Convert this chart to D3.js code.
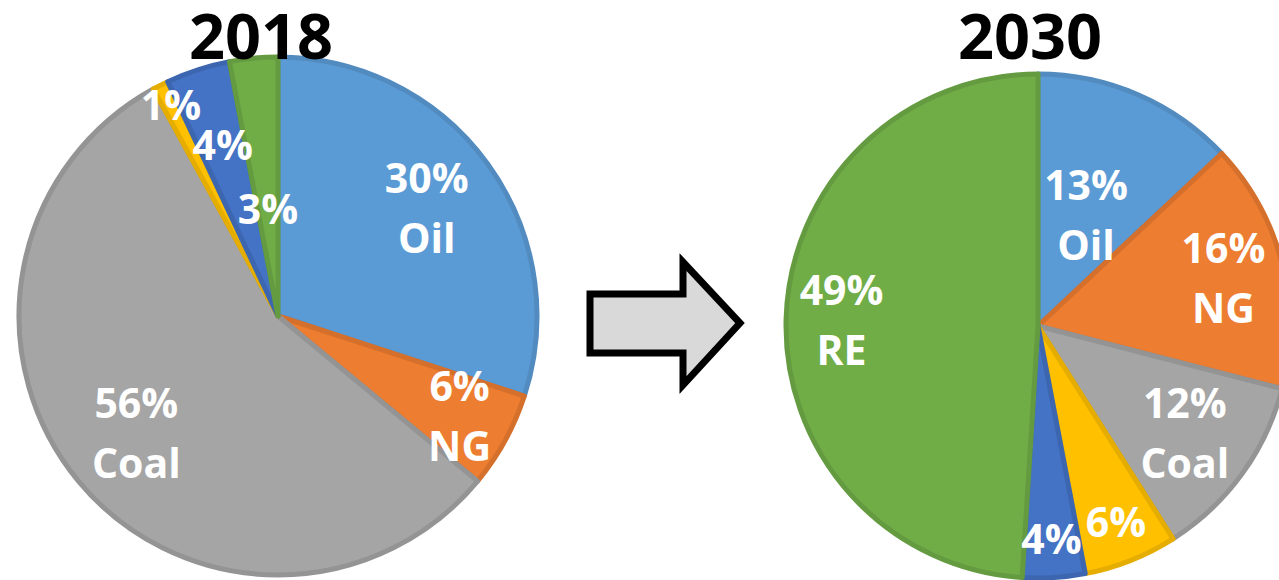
<!DOCTYPE html>
<html>
<head>
<meta charset="utf-8">
<script src="https://cdn.jsdelivr.net/npm/d3@7"></script>
<style>
  body { margin: 0; background: #fff; }
  svg { display: block; }
  text { font-family: "Open Sans", "Noto Sans", sans-serif; font-weight: bold; }
</style>
</head>
<body>
<svg id="chart" width="1279" height="580"></svg>
<script>
// data, clockwise from 12 o'clock
const sources = ['Oil', 'NG', 'Coal', 'Nuclear', 'Hydro', 'RE']
const colors = ['#5B9BD5', '#ED7D31', '#A5A5A5', '#FFC000', '#4472C4', '#70AD47']
const share2018 = [30, 6, 56, 1, 4, 3]
const share2030 = [13, 16, 12, 6, 4, 49]
const names2018 = ['Oil', 'NG', 'Coal', '', '', '']
const names2030 = ['Oil', 'NG', 'Coal', '', '', 'RE']

// label distance from centre as a fraction of the radius (Excel best fit)
const labelPos2018 = [0.71, 0.80, 0.71, 0.91, 0.69, 0.41]
const labelPos2030 = [0.48, 0.76, 0.72, 0.84, 0.85, 0.78]

const svg = d3.select('#chart')

function drawPie (cx, cy, r, values, names, labelPos, title, tx) {
  var g = svg.append('g').attr('transform', 'translate(' + cx + ',' + cy + ')')
  var pie = d3.pie().sort(null).value(d => d)
  var arcs = pie(values)
  var arc = d3.arc().innerRadius(0).outerRadius(r)

  g.selectAll('path.slice')
    .data(arcs)
    .enter().append('path')
    .attr('class', 'slice')
    .attr('d', arc)
    .attr('fill', (d, i) => colors[i])
    .attr('stroke', (d, i) => d3.color(colors[i]).darker(0.3))
    .attr('stroke-width', 5)
    .attr('stroke-linejoin', 'round')

  var lab = g.selectAll('text.lab')
    .data(arcs)
    .enter().append('text')
    .attr('class', 'lab')
    .attr('fill', '#fff')
    .attr('font-size', 41)
    .attr('text-anchor', 'middle')
    .attr('transform', (d, i) => {
      var la = d3.arc().innerRadius(r * labelPos[i]).outerRadius(r * labelPos[i])
      var c = la.centroid(d)
      return 'translate(' + c[0] + ',' + c[1] + ')'
    })
  lab.each(function (d, i) {
    var t = d3.select(this)
    if (names[i]) {
      t.append('tspan').attr('x', 0).attr('y', -15).text(d.data + '%')
      t.append('tspan').attr('x', 0).attr('y', 45).text(names[i])
    } else {
      t.append('tspan').attr('x', 0).attr('y', 14).text(d.data + '%')
    }
  })

  svg.append('text')
    .attr('x', tx).attr('y', 59)
    .attr('text-anchor', 'middle')
    .attr('font-size', 63)
    .attr('fill', '#000')
    .text(title)
}

drawPie(278, 316, 259, share2018, names2018, labelPos2018, '2018', 261)
drawPie(1038, 326, 252, share2030, names2030, labelPos2030, '2030', 1030)

// block arrow between the two pies
const arrow = d3.path()
arrow.moveTo(590, 294)
arrow.lineTo(683, 294)
arrow.lineTo(683, 262)
arrow.lineTo(740, 323)
arrow.lineTo(683, 385)
arrow.lineTo(683, 353)
arrow.lineTo(590, 353)
arrow.closePath()
svg.append('path')
  .attr('d', arrow.toString())
  .attr('fill', '#D9D9D9')
  .attr('stroke', '#000')
  .attr('stroke-width', 7)
  .attr('stroke-miterlimit', 10)
</script>
</body>
</html>
